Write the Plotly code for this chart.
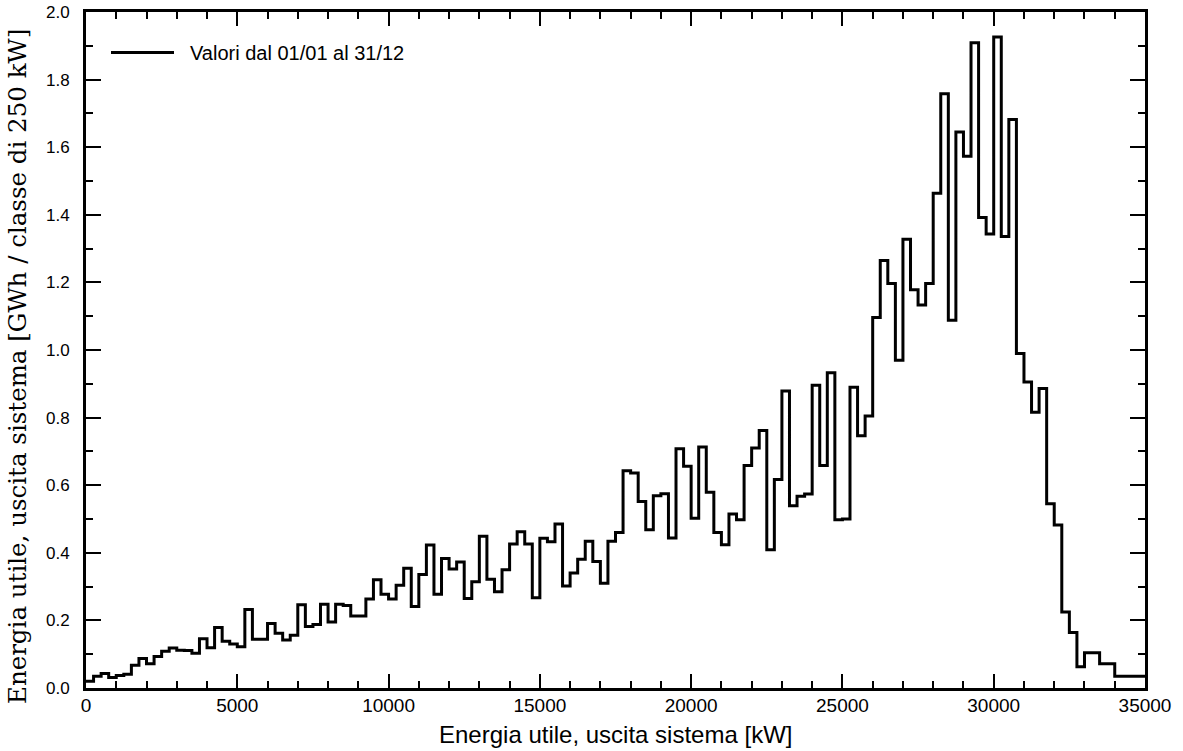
import numpy as np
import plotly.graph_objects as go

# ---- data ----
bin_width_kw = 250
x_start_kw = 0
energy_gwh = [
    0.020, 0.035, 0.043, 0.031, 0.037, 0.041, 0.067, 0.087, 0.072, 0.093,
    0.109, 0.118, 0.112, 0.111, 0.103, 0.146, 0.119, 0.179, 0.138, 0.130,
    0.122, 0.232, 0.144, 0.144, 0.191, 0.162, 0.142, 0.156, 0.246, 0.182,
    0.188, 0.248, 0.195, 0.248, 0.244, 0.213, 0.213, 0.263, 0.320, 0.277,
    0.263, 0.304, 0.354, 0.241, 0.336, 0.423, 0.277, 0.383, 0.352, 0.373,
    0.265, 0.314, 0.449, 0.322, 0.285, 0.350, 0.426, 0.462, 0.426, 0.267,
    0.443, 0.433, 0.485, 0.302, 0.340, 0.381, 0.434, 0.374, 0.310, 0.434,
    0.460, 0.643, 0.636, 0.552, 0.468, 0.569, 0.575, 0.444, 0.708, 0.656,
    0.502, 0.713, 0.579, 0.460, 0.424, 0.515, 0.498, 0.658, 0.710, 0.762,
    0.409, 0.617, 0.879, 0.539, 0.567, 0.574, 0.896, 0.658, 0.933, 0.498,
    0.500, 0.890, 0.746, 0.805, 1.096, 1.265, 1.197, 0.970, 1.328, 1.178,
    1.133, 1.197, 1.464, 1.758, 1.088, 1.645, 1.573, 1.909, 1.392, 1.343,
    1.926, 1.336, 1.682, 0.990, 0.905, 0.816, 0.886, 0.545, 0.482, 0.225,
    0.164, 0.063, 0.104, 0.104, 0.072, 0.072, 0.035, 0.035, 0.035, 0.035,
]
x_tick_values = [0, 5000, 10000, 15000, 20000, 25000, 30000, 35000]
y_tick_values = [0.0, 0.2, 0.4, 0.6, 0.8, 1.0, 1.2, 1.4, 1.6, 1.8, 2.0]
legend_label = "Valori dal 01/01 al 31/12"
x_title = "Energia utile, uscita sistema [kW]"
y_title = "Energia utile, uscita sistema [GWh / classe di 250 kW]"

# bin edges and step values
n = len(energy_gwh)
edges = x_start_kw + bin_width_kw * np.arange(n + 1)
step_y = list(energy_gwh) + [energy_gwh[-1]]

fig = go.Figure()
fig.add_trace(go.Scatter(
    x=edges, y=step_y, mode="lines", line_shape="hv",
    line=dict(color="black", width=3), name=legend_label, showlegend=False,
))

sans = "Liberation Sans, Arial, sans-serif"
common_axis = dict(
    showline=True, linewidth=3, linecolor="black", mirror="allticks",
    ticks="inside", tickcolor="black", tickwidth=1.5, showgrid=False, zeroline=False,
    automargin=False,
)
fig.update_xaxes(
    range=[0, 35000], tickvals=x_tick_values, tickformat="d", ticklen=14,
    minor=dict(dtick=1000, ticks="inside", ticklen=7, tickcolor="black", tickwidth=1.5, showgrid=False),
    tickfont=dict(family=sans, size=19, color="black"), ticklabelstandoff=-2,
    **common_axis,
)
fig.update_yaxes(
    range=[0, 2.0], tickvals=y_tick_values, tickformat=".1f", ticklen=15,
    minor=dict(dtick=0.1, ticks="inside", ticklen=7, tickcolor="black", tickwidth=1.5, showgrid=False),
    tickfont=dict(family=sans, size=17, color="black"), ticklabelstandoff=10,
    **common_axis,
)

W, H = 1183, 751
ml, mr, mt, mb = 86, 38, 12, 63
pw, ph = W - ml - mr, H - mt - mb

def px_x(p):
    return (p - ml) / pw

def px_y(p):
    return (H - mb - p) / ph

# legend drawn as a line sample + text
fig.add_shape(type="line", xref="paper", yref="paper",
              x0=px_x(111), x1=px_x(174), y0=px_y(52.5), y1=px_y(52.5),
              line=dict(color="black", width=3))
fig.add_annotation(text=legend_label, xref="paper", yref="paper",
                   x=px_x(188), y=px_y(52.5), xanchor="left", yanchor="middle",
                   showarrow=False, font=dict(family=sans, size=20, color="black"))
# axis titles
fig.add_annotation(text=x_title, xref="paper", yref="paper",
                   x=px_x(615), y=px_y(734), xanchor="center", yanchor="middle",
                   showarrow=False, font=dict(family=sans, size=24, color="black"))
fig.add_annotation(text=y_title, xref="paper", yref="paper", textangle=-90,
                   x=px_x(17), y=px_y(367), xanchor="center", yanchor="middle",
                   showarrow=False, font=dict(family="DejaVu Serif, serif", size=24.5, color="black"))

fig.update_layout(
    width=W, height=H, margin=dict(l=ml, r=mr, t=mt, b=mb, autoexpand=False),
    paper_bgcolor="white", plot_bgcolor="white", showlegend=False,
)
fig.write_html(
    "out.html",
    config={"displayModeBar": False},
    post_script="document.body.style.margin='0';document.body.style.overflow='hidden';",
)
